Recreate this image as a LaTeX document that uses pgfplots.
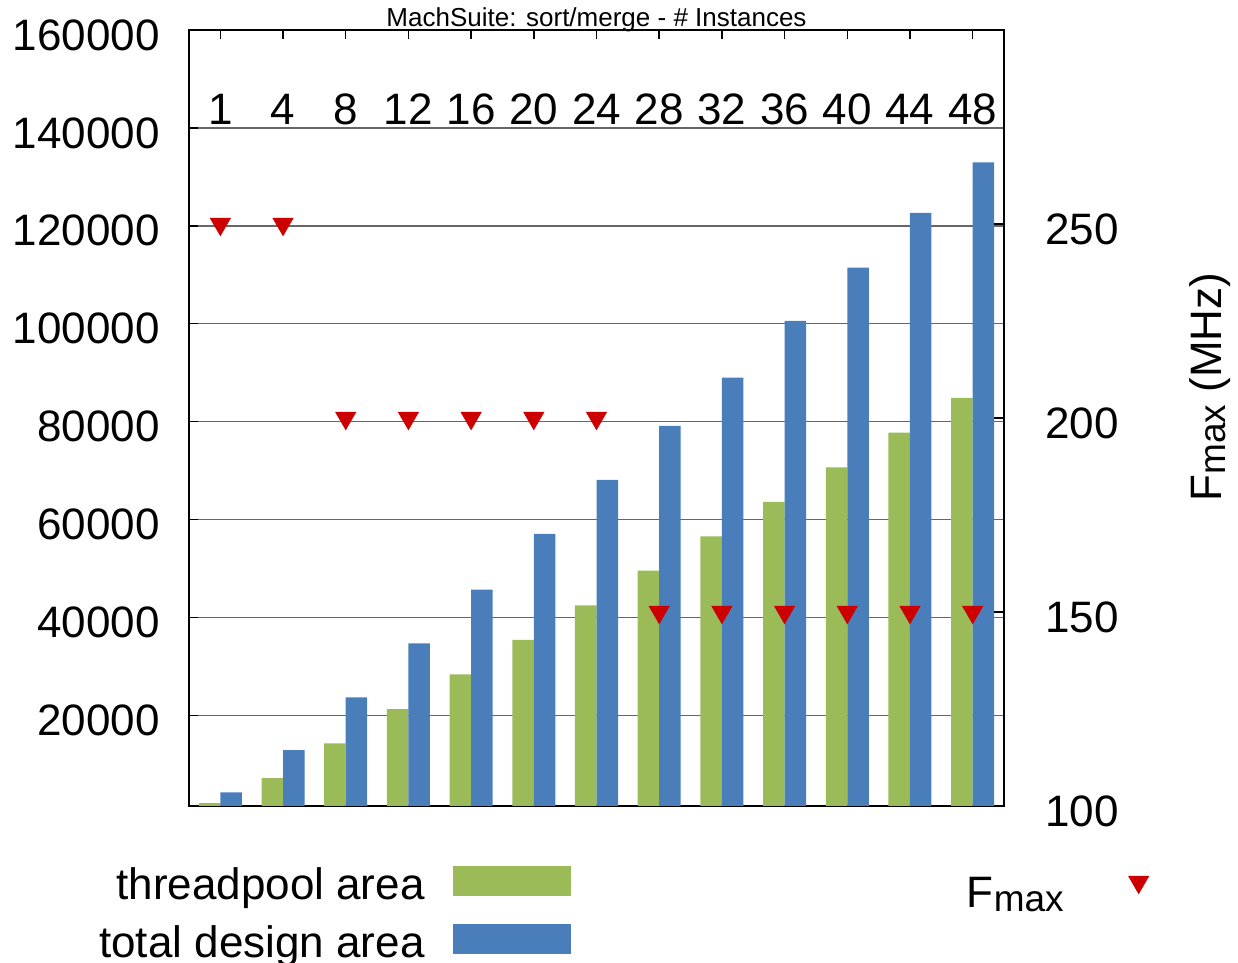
\documentclass[border=0pt]{standalone}
\usepackage{pgfplots}
\usepackage{pgfplotstable}
\pgfplotsset{compat=1.18}
\usepackage{fontspec}
\setmainfont{Liberation Sans}
\definecolor{cgreen}{HTML}{9BBB59}
\definecolor{cblue}{HTML}{4A7EBB}
\definecolor{cred}{HTML}{CC0000}
\pgfplotstableread{
x green blue fmax
0 2100 4300 250
1 7200 12900 250
2 14300 23700 200
3 21300 34700 200
4 28400 45700 200
5 35450 57100 200
6 42500 68100 200
7 49600 79150 150
8 56550 89000 150
9 63600 100600 150
10 70650 111450 150
11 77750 122650 150
12 84850 132950 150
}\datatable
\begin{document}
\begin{tikzpicture}
\path[use as bounding box] (0,0) rectangle (619pt,481.5pt);
\begin{axis}[
 scale only axis, width=407.5pt, height=388pt, at={(94.5pt,78.5pt)}, anchor=south west,
 xmin=-0.5, xmax=12.5, ymin=1500, ymax=160000,
 axis line style={line width=1pt},
 xtick={0,1,2,3,4,5,6,7,8,9,10,11,12},
 xticklabels={1,4,8,12,16,20,24,28,32,36,40,44,48},
 xtick pos=upper, xticklabel pos=upper,
 xticklabel style={anchor=center, inner sep=0pt, yshift=-39.5pt},
 ytick={20000,40000,60000,80000,100000,120000,140000,160000}, ytick pos=left,
 yticklabel style={anchor=east, inner sep=0pt, xshift=-14.5pt, yshift=-2.5pt},
 scaled y ticks=false,
 ymajorgrids, major grid style={black!60, line width=0.7pt},
 major tick length=4.5pt, tick style={black, line width=0.7pt},
 tick label style={font=\fontsize{22}{22}\selectfont},
 /pgf/number format/fixed, /pgf/number format/precision=0,
 /pgf/number format/1000 sep={}, /pgf/number format/assume math mode=true,
 title={MachSuite: sort/merge - \# Instances},
 title style={at={(0.5,1)}, anchor=base, yshift=-4.5pt, inner sep=0pt, font=\fontsize{13}{13}\selectfont},
 legend style={at={(0.4687,-0.0773)}, anchor=north east, draw=none, fill=none, inner sep=0pt,
   row sep=7.5pt, column sep=14pt, font=\fontsize{22}{22}\selectfont,
   nodes={inner sep=0pt, text height=16pt, text depth=5pt}},
 legend cell align=right, legend plot pos=right,
]
\addplot[ybar, fill=cgreen, draw=none, bar width=0.343, bar shift=-0.1715,
  legend image code/.code={\fill[cgreen] (0pt,-4pt) rectangle (59pt,11pt);}]
  table[x=x,y=green]{\datatable};
\addlegendentry{threadpool area}
\addplot[ybar, fill=cblue, draw=none, bar width=0.343, bar shift=0.1715,
  legend image code/.code={\fill[cblue] (0pt,-4pt) rectangle (59pt,11pt);}]
  table[x=x,y=blue]{\datatable};
\addlegendentry{total design area}
\end{axis}
\begin{axis}[
 scale only axis, width=407.5pt, height=388pt, at={(94.5pt,78.5pt)}, anchor=south west,
 xmin=-0.5, xmax=12.5, ymin=100, ymax=300,
 axis x line=none, axis y line*=right,
 axis line style={line width=1pt},
 ytick={100,150,200,250},
 yticklabel style={anchor=west, inner sep=0pt, xshift=20.5pt, yshift=-2.5pt},
 major tick length=5pt, tick style={black, line width=0.7pt},
 tick label style={font=\fontsize{22}{22}\selectfont},
 /pgf/number format/fixed, /pgf/number format/precision=0,
 /pgf/number format/assume math mode=true,
 ylabel={F{\fontsize{18.5}{18.5}\selectfont\raisebox{-2pt}{max}} (MHz)},
 ylabel style={at={(rel axis cs:1.2528,0.54)}, anchor=center, inner sep=0pt, font=\fontsize{22}{22}\selectfont},
 legend style={at={(1.178,-0.1172)}, anchor=east, draw=none, fill=none, inner sep=0pt,
   column sep=32.5pt, font=\fontsize{22}{22}\selectfont,
   nodes={inner sep=0pt, text height=16pt, text depth=5pt}},
 legend cell align=right, legend plot pos=right,
 clip=false,
]
\addplot[only marks, mark=triangle*, mark size=5.77pt, mark options={rotate=180, fill=cred, draw=cred},
  legend image code/.code={\draw[only marks, mark=triangle*, mark size=5.77pt, mark options={rotate=180, fill=cred, draw=cred}] plot coordinates {(0pt,7.5pt)};}]
  table[x=x,y=fmax]{\datatable};
\addlegendentry{F{\fontsize{18.5}{18.5}\selectfont\raisebox{-2pt}{max}}}
\end{axis}
\end{tikzpicture}
\end{document}
